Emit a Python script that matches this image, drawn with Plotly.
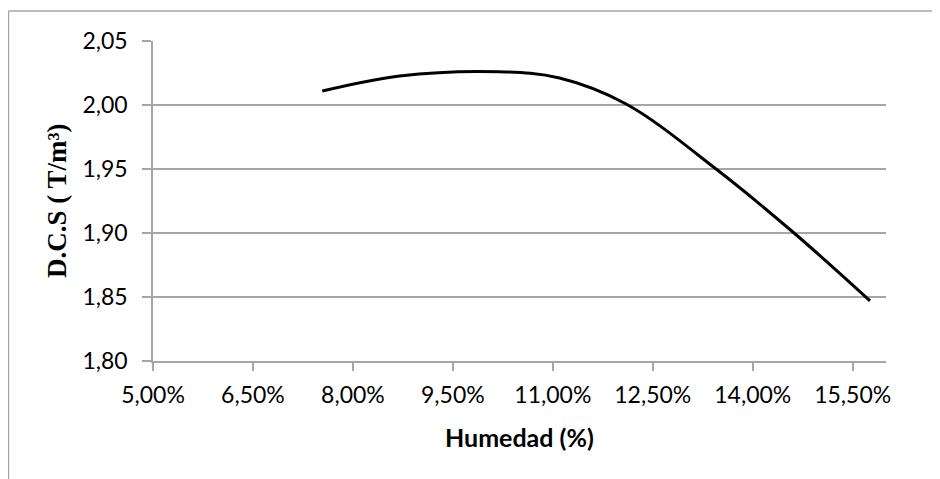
import plotly.graph_objects as go

# Points (humidity as fraction, dry density T/m3)
humedad = [0.0754, 0.0870, 0.1020, 0.1110, 0.1210, 0.1345, 0.1462, 0.1576]
dcs = [2.0109, 2.0227, 2.0260, 2.0211, 2.0008, 1.9500, 1.9000, 1.8470]

x_ticks = [0.05, 0.065, 0.08, 0.095, 0.11, 0.125, 0.14, 0.155]
y_ticks = [1.80, 1.85, 1.90, 1.95, 2.00, 2.05]

grid = "#a6a6a6"
sans = "Lato, 'Open Sans', sans-serif"
tick_font = dict(family=sans, size=23, color="#000000")

# page body adds an 8px margin, so the figure is 8px smaller than the window
W, H = 932, 471
L, R, T, B = 145, 54, 33, 118
PW, PH = W - L - R, H - T - B

fig = go.Figure()
fig.add_trace(go.Scatter(
    x=humedad, y=dcs, mode="lines",
    line=dict(color="#000000", width=3, shape="spline", smoothing=1.0),
    showlegend=False, hoverinfo="skip",
))

fig.update_layout(
    width=W, height=H,
    margin=dict(l=L, r=R, t=T, b=B),
    paper_bgcolor="white", plot_bgcolor="white",
    separators=",.",
    xaxis=dict(
        range=[0.05, 0.16], tickvals=x_ticks, tickformat=".2%",
        showgrid=False, zeroline=False,
        showline=True, linecolor=grid, linewidth=1.5,
        ticks="outside", ticklen=8, tickcolor=grid, tickwidth=1.5,
        tickfont=tick_font, ticklabelstandoff=5,
    ),
    yaxis=dict(
        range=[1.80, 2.05], tickvals=y_ticks, tickformat=".2f",
        showgrid=True, gridcolor=grid, gridwidth=1.5, zeroline=False,
        showline=True, linecolor=grid, linewidth=1.5,
        ticks="outside", ticklen=9, tickcolor=grid, tickwidth=1.5,
        tickfont=tick_font, ticklabelstandoff=10,
    ),
    annotations=[
        dict(text="<b>Humedad (%)</b>", xref="paper", yref="paper",
             x=0.5, y=(353 - 429) / PH, xanchor="center", yanchor="middle",
             showarrow=False,
             font=dict(family=sans, size=25, color="#000000")),
        dict(text="<b>D.C.S ( T/m³)</b>", xref="paper", yref="paper",
             x=(49 - L) / PW, y=0.5, xanchor="center", yanchor="middle",
             textangle=-90, showarrow=False,
             font=dict(family="'Liberation Serif', 'Times New Roman', serif", size=27, color="#000000")),
    ],
    shapes=[
        dict(type="line", xref="paper", yref="paper",
             x0=(0.5 - L) / PW, x1=(0.5 - L) / PW, y0=-1, y1=(353 - 3) / PH,
             line=dict(color=grid, width=1.5)),
        dict(type="line", xref="paper", yref="paper",
             x0=(0.5 - L) / PW, x1=2, y0=(353 - 3) / PH, y1=(353 - 3) / PH,
             line=dict(color=grid, width=1.5)),
    ],
)

fig.write_html("out.html")
